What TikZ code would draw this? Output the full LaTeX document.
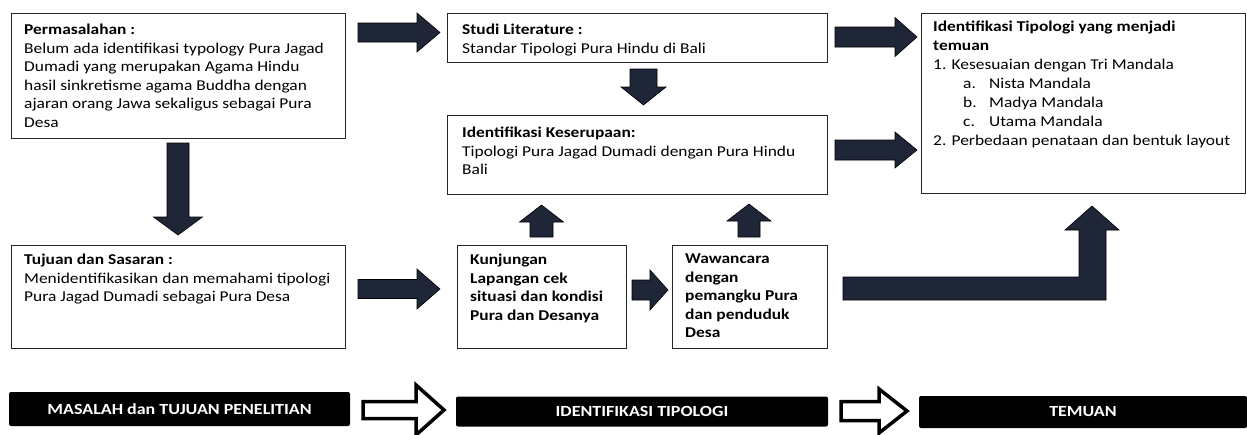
\documentclass[tikz,border=0pt]{standalone}
\usepackage{fontspec}
\setmainfont{Carlito}
\newfontfamily\cfont[FakeStretch=1.16]{Carlito}
\definecolor{navy}{RGB}{30,38,56}
\tikzset{
  box/.style={draw=black!85, line width=1.1pt, inner sep=0pt, anchor=north west, fill=white},
  txt/.style={inner sep=0pt, anchor=north west, align=left, font=\cfont\fontsize{15}{18.5}\selectfont},
  blk/.style={fill=navy, draw=black, line width=0.6pt, line join=miter},
  hollow/.style={fill=white, draw=black, line width=3.5pt, line join=miter},
  bar/.style={fill=black, rounded corners=2pt, inner sep=0pt, text=white, font=\cfont\bfseries\fontsize{15.5}{18}\selectfont}
}
\newcommand\arrR[6]{\draw[blk] (#1,{#4-#5}) -- (#2,{#4-#5}) -- (#2,{#4-#6}) -- (#3,#4) -- (#2,{#4+#6}) -- (#2,{#4+#5}) -- (#1,{#4+#5}) -- cycle;}
\newcommand\arrV[6]{\draw[blk] ({#4-#5},#1) -- ({#4-#5},#2) -- ({#4-#6},#2) -- (#4,#3) -- ({#4+#6},#2) -- ({#4+#5},#2) -- ({#4+#5},#1) -- cycle;}
\begin{document}
\begin{tikzpicture}[x=1pt,y=-1pt]
\useasboundingbox[fill=white] (0,0) rectangle (1247,434);
% boxes
\node[box, minimum width=334pt, minimum height=125pt] (perm) at (11,13) {};
\node[box, minimum width=380pt, minimum height=49pt] (studi) at (447,13) {};
\node[box, minimum width=380pt, minimum height=79pt] (kes) at (447,115) {};
\node[box, minimum width=324pt, minimum height=180pt] (tem) at (921,13) {};
\node[box, minimum width=334pt, minimum height=103pt] (tuj) at (11,245) {};
\node[box, minimum width=169pt, minimum height=103pt] (kunj) at (457,245) {};
\node[box, minimum width=155pt, minimum height=103pt] (waw) at (672,245) {};
% texts
\node[txt] (permt) at (24,24) {\textbf{Permasalahan :}\\Belum ada identifikasi typology Pura Jagad\\Dumadi yang merupakan Agama Hindu\\hasil sinkretisme agama Buddha dengan\\ajaran orang Jawa sekaligus sebagai Pura\\Desa};
\node[txt] (studit) at (462,24) {\textbf{Studi Literature :}\\Standar Tipologi Pura Hindu di Bali};
\node[txt] (kest) at (462,127) {\textbf{Identifikasi Keserupaan:}\\Tipologi Pura Jagad Dumadi dengan Pura Hindu\\Bali};
\node[txt, font=\cfont\fontsize{15}{19}\selectfont] (temt) at (933,21) {\textbf{Identifikasi Tipologi yang menjadi}\\\textbf{temuan}\\1. Kesesuaian dengan Tri Mandala\\\hspace*{30pt}\makebox[26pt][l]{a.}Nista Mandala\\\hspace*{30pt}\makebox[26pt][l]{b.}Madya Mandala\\\hspace*{30pt}\makebox[26pt][l]{c.}Utama Mandala\\2. Perbedaan penataan dan bentuk layout};
\node[txt] (tujt) at (24,254) {\textbf{Tujuan dan Sasaran :}\\Menidentifikasikan dan memahami tipologi\\Pura Jagad Dumadi sebagai Pura Desa};
\node[txt, font=\cfont\bfseries\fontsize{15}{18.5}\selectfont] (kunjt) at (470,254) {Kunjungan\\Lapangan cek\\situasi dan kondisi\\Pura dan Desanya};
\node[txt, font=\cfont\bfseries\fontsize{15}{18.5}\selectfont] (wawt) at (685,254) {Wawancara\\dengan\\pemangku Pura\\dan penduduk\\Desa};
% block arrows
\arrR{358}{417}{440}{32.5}{9.5}{19.5}
\arrR{835}{895}{917}{37}{10}{19.5}
\arrR{835}{895}{917}{150}{10}{18}
\arrR{358}{417}{440}{289}{9.5}{20}
\arrR{632}{650}{668}{290}{10}{20}
\arrV{143}{217}{235}{178}{11}{24.5}
\arrV{69}{87}{105}{643.5}{13.5}{22.5}
\arrV{237}{222}{205}{541.5}{11.5}{22}
\arrV{237}{221}{204}{749}{11}{22}
\draw[blk] (843,277) -- (1079,277) -- (1079,230) -- (1065,230) -- (1092,206) -- (1119,230) -- (1106,230) -- (1106,300) -- (843,300) -- cycle;
% bottom bars
\node[bar, minimum width=341pt, minimum height=34pt] (b1) at (179.5,409) {MASALAH dan TUJUAN PENELITIAN};
\node[bar, minimum width=372pt, minimum height=30pt] (b2) at (642,411.5) {IDENTIFIKASI TIPOLOGI};
\node[bar, minimum width=328pt, minimum height=32pt] (b3) at (1083,412) {TEMUAN};
\draw[hollow] (363,401.5) -- (416,401.5) -- (416,385) -- (444,410) -- (416,435) -- (416,418.5) -- (363,418.5) -- cycle;
\draw[hollow] (841,401.5) -- (879,401.5) -- (879,389) -- (907,411) -- (879,433) -- (879,420.5) -- (841,420.5) -- cycle;
\end{tikzpicture}
\end{document}
